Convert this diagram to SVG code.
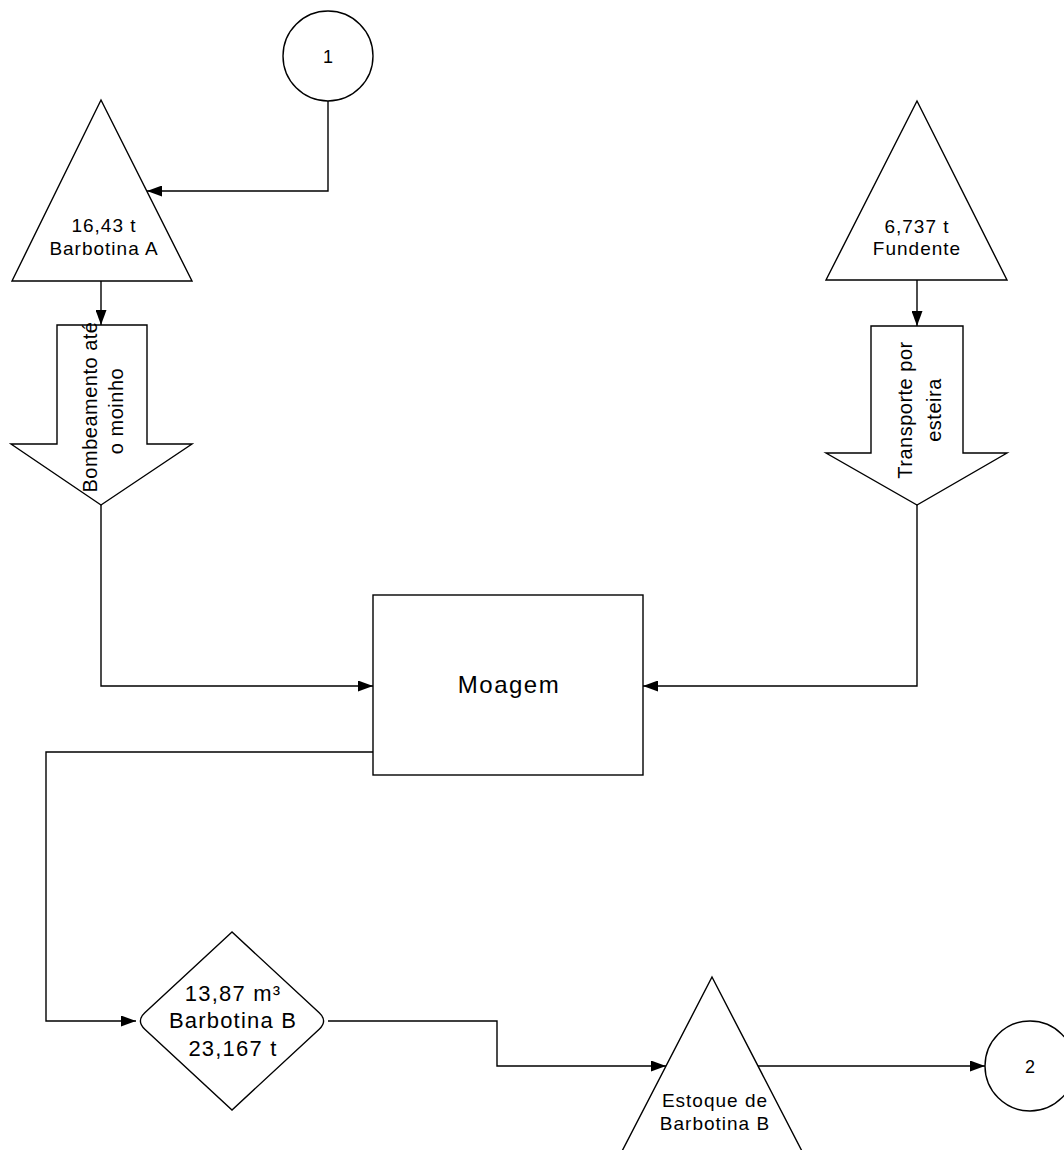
<svg xmlns="http://www.w3.org/2000/svg" width="1064" height="1150" viewBox="0 0 1064 1150">
<style>
  .shape { fill: #ffffff; stroke: #000000; stroke-width: 1.4; }
  .conn { fill: none; stroke: #000000; stroke-width: 1.4; }
  text { font-family: "Liberation Sans", Arial, sans-serif; fill: #000000; text-anchor: middle; }
  .tri { font-size: 19px; letter-spacing: 1px; }
  .rot { font-size: 20px; letter-spacing: 0.5px; }
  .box { font-size: 24px; letter-spacing: 1.5px; }
  .dia { font-size: 22px; letter-spacing: 1.2px; }
  .circ { font-size: 18px; }
</style>
<defs>
  <marker id="ah" viewBox="0 0 15 11" refX="15" refY="5.5" markerWidth="15" markerHeight="11" markerUnits="userSpaceOnUse" orient="auto">
    <path d="M0,0 L15,5.5 L0,11 Z" fill="#000000"/>
  </marker>
</defs>
<rect x="0" y="0" width="1064" height="1150" fill="#ffffff"/>

<g id="connectors">
  <path class="conn" d="M328,101 V191 H147" marker-end="url(#ah)"/>
  <path class="conn" d="M101,281 V325" marker-end="url(#ah)"/>
  <path class="conn" d="M917,280 V326" marker-end="url(#ah)"/>
  <path class="conn" d="M101,505 V686 H373" marker-end="url(#ah)"/>
  <path class="conn" d="M917,505 V686 H643" marker-end="url(#ah)"/>
  <path class="conn" d="M373,752 H46 V1021 H136" marker-end="url(#ah)"/>
  <path class="conn" d="M328,1021 H497 V1066 H666" marker-end="url(#ah)"/>
  <path class="conn" d="M758,1066 H985" marker-end="url(#ah)"/>
</g>

<g id="node-circle1">
  <circle class="shape" cx="328" cy="56" r="45"/>
  <text class="circ" x="328" y="63">1</text>
</g>

<g id="node-barbotinaA">
  <polygon class="shape" points="101,100 192,281 12,281"/>
  <text class="tri" x="104" y="232">16,43 t</text>
  <text class="tri" x="104" y="255">Barbotina A</text>
</g>

<g id="node-fundente">
  <polygon class="shape" points="917,101 1007,280 826,280"/>
  <text class="tri" x="917" y="233">6,737 t</text>
  <text class="tri" x="917" y="255">Fundente</text>
</g>

<g id="node-bombeamento">
  <polygon class="shape" points="57,325 147,325 147,444 192,444 101,505 11,444 57,444"/>
  <text class="rot" transform="translate(97,407) rotate(-90)">Bombeamento até</text>
  <text class="rot" transform="translate(123,411) rotate(-90)">o moinho</text>
</g>

<g id="node-transporte">
  <polygon class="shape" points="871,326 963,326 963,453 1007,453 917,505 826,453 871,453"/>
  <text class="rot" transform="translate(912,410) rotate(-90)">Transporte por</text>
  <text class="rot" transform="translate(941,410) rotate(-90)">esteira</text>
</g>

<g id="node-moagem">
  <rect class="shape" x="373" y="595" width="270" height="180"/>
  <text class="box" x="509" y="693">Moagem</text>
</g>

<g id="node-barbotinaB">
  <path class="shape" d="M232,932 L144.8,1012.8 Q136,1021 144.8,1029.2 L232,1110 L319.2,1029.2 Q328,1021 319.2,1012.8 Z"/>
  <text class="dia" x="233" y="1001">13,87 m³</text>
  <text class="dia" x="233" y="1028">Barbotina B</text>
  <text class="dia" x="233" y="1056">23,167 t</text>
</g>

<g id="node-estoque">
  <polygon class="shape" points="712,977 805,1157 619,1157"/>
  <text class="tri" x="715" y="1107">Estoque de</text>
  <text class="tri" x="715" y="1130">Barbotina B</text>
</g>

<g id="node-circle2">
  <circle class="shape" cx="1030" cy="1066" r="45"/>
  <text class="circ" x="1030" y="1073">2</text>
</g>
</svg>
